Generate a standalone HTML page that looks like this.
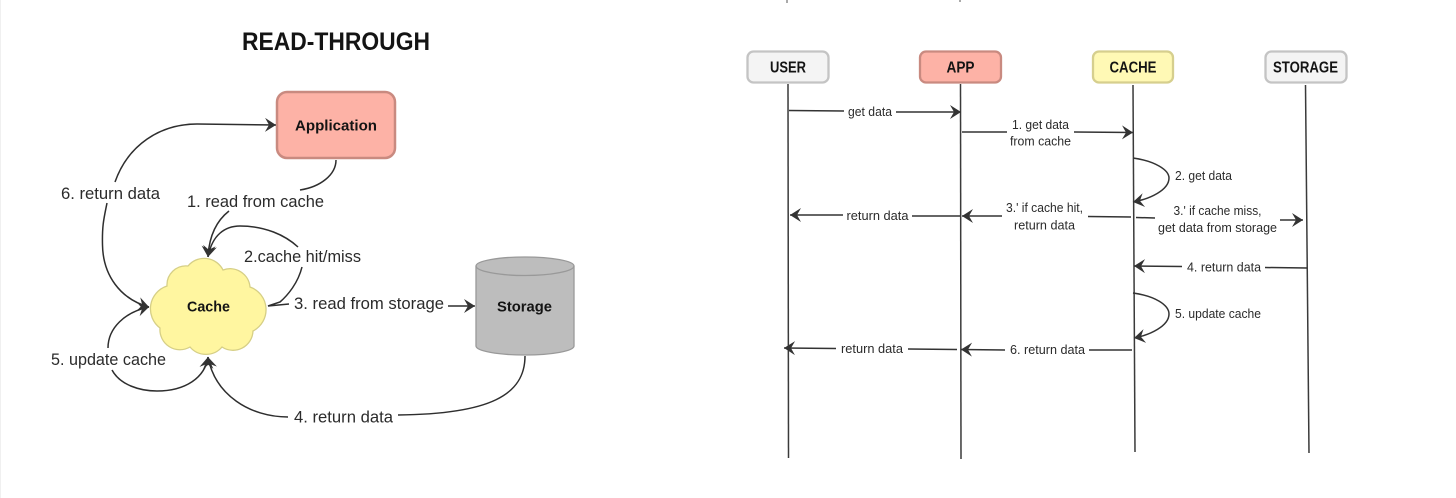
<!DOCTYPE html>
<html><head><meta charset="utf-8"><style>
html,body{margin:0;padding:0;background:#fff;width:1456px;height:498px;overflow:hidden}
svg{display:block}
text{font-family:"Liberation Sans",sans-serif;fill:#2b2b2b}
.b{font-weight:700;fill:#141414}
.l{font-size:17px}
.s{font-size:13px}
.h{font-size:15.5px}
.c{fill:none;stroke:#2e2e2e;stroke-width:1.5}
.q{fill:none;stroke:#333;stroke-width:1.5}
.ll{stroke:#3a3a3a;stroke-width:1.5;fill:none}
</style></head><body>
<svg width="1456" height="498" viewBox="0 0 1456 498" xmlns="http://www.w3.org/2000/svg">
<defs>
<marker id="a" markerUnits="userSpaceOnUse" markerWidth="18" markerHeight="18" refX="14" refY="9" orient="auto"><path d="M3,2 L14,9 L3,16 L7,9 Z" fill="#333"/></marker>
</defs>
<rect width="1456" height="498" fill="#fff"/>
<line x1="0.5" y1="0" x2="0.5" y2="498" stroke="#f0f0f0"/>
<path d="M787,0V3M960,0V2" stroke="#555" stroke-width="1" fill="none"/>

<!-- Read-through -->
<text x="242" y="50" class="b" font-size="25" textLength="188" lengthAdjust="spacingAndGlyphs">READ-THROUGH</text>
<rect x="277" y="92" width="118" height="66" rx="10" fill="#fdb2a6" stroke="#c98a80" stroke-width="2.5"/>
<text x="295" y="130.5" class="b" font-size="15" textLength="82" lengthAdjust="spacingAndGlyphs">Application</text>
<path d="M188,266 A21,21 0 0 1 223,270 A20,20 0 0 1 250,287 A24,24 0 0 1 253,331 A20,20 0 0 1 222,347 A21,21 0 0 1 190,347 A20,20 0 0 1 160,328 A24,24 0 0 1 167,286 A19,19 0 0 1 188,266 Z" fill="#fff6a0" stroke="#d6cf86" stroke-width="1.3"/>
<text x="187" y="311.5" class="b" font-size="15" textLength="43" lengthAdjust="spacingAndGlyphs">Cache</text>
<path d="M476,266 V346 C476,351 498,355 525,355 C552,355 574,351 574,346 V266 C574,261 552,257 525,257 C498,257 476,261 476,266 Z" fill="#bdbdbd" stroke="#999" stroke-width="1.3"/>
<path d="M476,266 C476,271 498,275.5 525,275.5 C552,275.5 574,271 574,266" fill="none" stroke="#999" stroke-width="1.3"/>
<text x="497" y="311.5" class="b" font-size="15" textLength="55" lengthAdjust="spacingAndGlyphs">Storage</text>

<path class="c" marker-end="url(#a)" d="M107,203 C104,218 102,225 102.5,245 C103,275 120,299 149,307"/>
<path class="c" marker-end="url(#a)" d="M115,182 C128,145 160,124 197,124 L276,125"/>
<path class="c" d="M336,160 C336,175 320,187 300,190"/>
<path class="c" marker-end="url(#a)" d="M229,211 C215,222 209,238 208,257"/>
<path class="c" marker-end="url(#a)" d="M298,247 C285,235 265,226 240,226 C225,226 212,235 208,257"/>
<path class="c" d="M302,267 C298,283 288,295 280,302 L268,306 L289,304"/>
<path class="c" marker-end="url(#a)" d="M448,306 L475,306"/>
<path class="c" marker-end="url(#a)" d="M108,348 C108,328 125,312 149,307"/>
<path class="c" marker-end="url(#a)" d="M112,370 C120,385 140,391 157,391 C185,391 205,378 208,357"/>
<path class="c" marker-end="url(#a)" d="M288,417 C250,417 215,395 208,357"/>
<path class="c" d="M525,356 C525,395 490,414 398,415"/>

<text x="61" y="199" class="l" textLength="99" lengthAdjust="spacingAndGlyphs">6. return data</text>
<text x="187" y="207" class="l" textLength="137" lengthAdjust="spacingAndGlyphs">1. read from cache</text>
<text x="244" y="262" class="l" textLength="117" lengthAdjust="spacingAndGlyphs">2.cache hit/miss</text>
<text x="294" y="309" class="l" textLength="150" lengthAdjust="spacingAndGlyphs">3. read from storage</text>
<text x="51" y="365" class="l" textLength="115" lengthAdjust="spacingAndGlyphs">5. update cache</text>
<text x="294" y="422.5" class="l" textLength="99" lengthAdjust="spacingAndGlyphs">4. return data</text>

<!-- Sequence -->
<rect x="747.5" y="51.5" width="81" height="31" rx="6" fill="#f4f4f4" stroke="#c4c4c4" stroke-width="2.3"/>
<rect x="920" y="51.5" width="81" height="31" rx="6" fill="#fdb2a6" stroke="#c98a80" stroke-width="2.3"/>
<rect x="1093" y="51.5" width="80" height="31" rx="6" fill="#fff9b5" stroke="#d6cf8e" stroke-width="2.3"/>
<rect x="1265.5" y="51.5" width="81" height="31" rx="6" fill="#f4f4f4" stroke="#c4c4c4" stroke-width="2.3"/>
<text x="770" y="72.5" class="b h" textLength="36" lengthAdjust="spacingAndGlyphs">USER</text>
<text x="946.5" y="72.5" class="b h" textLength="28" lengthAdjust="spacingAndGlyphs">APP</text>
<text x="1109.5" y="72.5" class="b h" textLength="47" lengthAdjust="spacingAndGlyphs">CACHE</text>
<text x="1273" y="72.5" class="b h" textLength="65" lengthAdjust="spacingAndGlyphs">STORAGE</text>

<path class="ll" d="M788,84 L788.5,458"/>
<path class="ll" d="M960.5,84 L961,459"/>
<path class="ll" d="M1133,85 L1135,452"/>
<path class="ll" stroke-width="1.3" d="M1305.5,85 L1309,453"/>

<path class="q" d="M789,110.5 L844,111"/>
<path class="q" marker-end="url(#a)" d="M896,112 L961,112"/>
<path class="q" d="M962,132 L1007,132"/>
<path class="q" marker-end="url(#a)" d="M1074,132 L1133,132.5"/>
<path class="q" marker-end="url(#a)" d="M1133,158 C1155,161 1169,170 1169,178 C1169,190 1150,199 1133,202"/>
<path class="q" marker-end="url(#a)" d="M843,215 L790,215"/>
<path class="q" d="M960,216 L912,216"/>
<path class="q" marker-end="url(#a)" d="M1002,216 L962,216"/>
<path class="q" d="M1088,216.5 L1131,217"/>
<path class="q" d="M1136,217.5 L1155,218"/>
<path class="q" marker-end="url(#a)" d="M1280,220 L1303,220"/>
<path class="q" marker-end="url(#a)" d="M1182,266.5 L1134,266"/>
<path class="q" d="M1265,267.5 L1307,268"/>
<path class="q" marker-end="url(#a)" d="M1133,293 C1155,296 1169,305 1169,314 C1169,326 1150,335 1134,338"/>
<path class="q" marker-end="url(#a)" d="M836,348.5 L784,348"/>
<path class="q" d="M957,349.5 L908,349"/>
<path class="q" marker-end="url(#a)" d="M1005,350 L961,349.5"/>
<path class="q" d="M1132,350 L1089,350"/>

<text x="848" y="116" class="s" textLength="44" lengthAdjust="spacingAndGlyphs">get data</text>
<text x="1012" y="129" class="s" textLength="57" lengthAdjust="spacingAndGlyphs">1. get data</text>
<text x="1010" y="145.5" class="s" textLength="61" lengthAdjust="spacingAndGlyphs">from cache</text>
<text x="1175" y="180" class="s" textLength="57" lengthAdjust="spacingAndGlyphs">2. get data</text>
<text x="846.5" y="220" class="s" textLength="62" lengthAdjust="spacingAndGlyphs">return data</text>
<text x="1006" y="212" class="s" textLength="77" lengthAdjust="spacingAndGlyphs">3.' if cache hit,</text>
<text x="1014" y="229.5" class="s" textLength="61" lengthAdjust="spacingAndGlyphs">return data</text>
<text x="1173.5" y="215" class="s" textLength="88" lengthAdjust="spacingAndGlyphs">3.' if cache miss,</text>
<text x="1158" y="232" class="s" textLength="119" lengthAdjust="spacingAndGlyphs">get data from storage</text>
<text x="1187" y="271.5" class="s" textLength="74" lengthAdjust="spacingAndGlyphs">4. return data</text>
<text x="1175" y="318" class="s" textLength="86" lengthAdjust="spacingAndGlyphs">5. update cache</text>
<text x="841" y="353" class="s" textLength="62" lengthAdjust="spacingAndGlyphs">return data</text>
<text x="1010" y="354" class="s" textLength="75" lengthAdjust="spacingAndGlyphs">6. return data</text>
</svg>
</body></html>
